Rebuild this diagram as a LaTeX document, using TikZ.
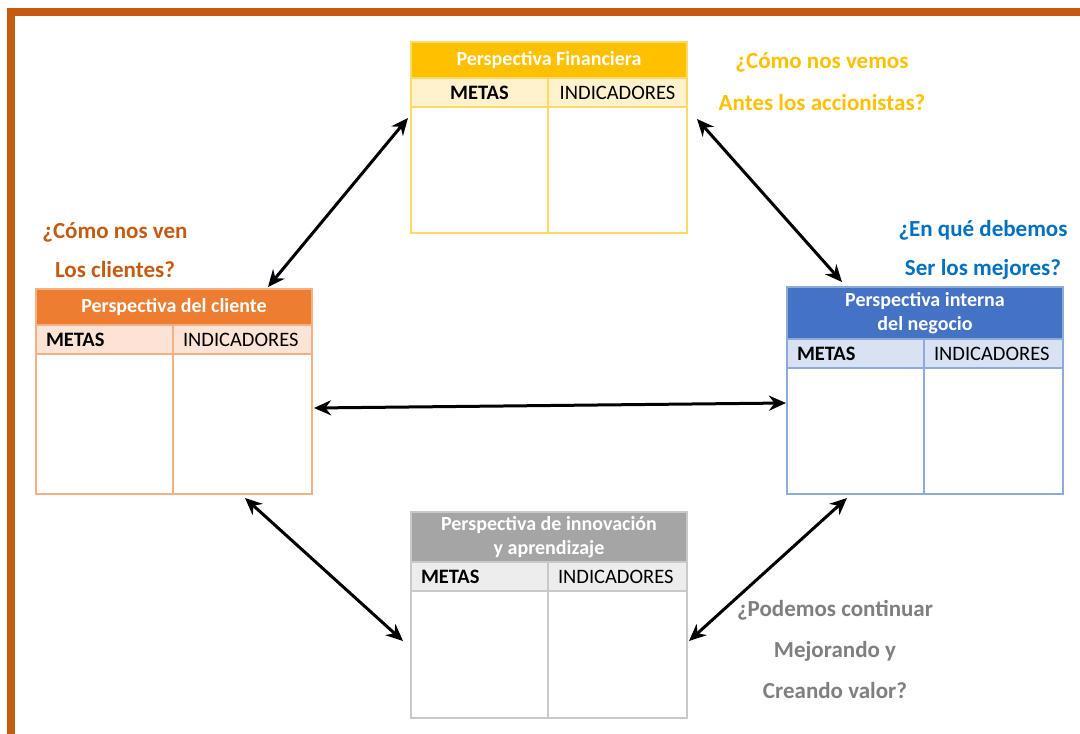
\documentclass[tikz,border=0pt]{standalone}
\usepackage{fontspec}
\setmainfont{Carlito}
\usepackage{tikz}
\usetikzlibrary{arrows.meta,positioning}
\usepackage{xcolor}
\definecolor{bscframe}{RGB}{197,90,17}
\definecolor{bscgold}{RGB}{255,192,0}
\definecolor{bscgoldsub}{RGB}{255,242,204}
\definecolor{bscgoldline}{RGB}{255,217,102}
\definecolor{bscorange}{RGB}{237,125,49}
\definecolor{bscorangesub}{RGB}{251,228,213}
\definecolor{bscorangeline}{RGB}{244,176,131}
\definecolor{bscblue}{RGB}{68,114,196}
\definecolor{bscbluesub}{RGB}{217,226,243}
\definecolor{bscblueline}{RGB}{142,170,219}
\definecolor{bscgray}{RGB}{165,165,165}
\definecolor{bscgraysub}{RGB}{237,237,237}
\definecolor{bscgrayline}{RGB}{201,201,201}
\definecolor{qorange}{RGB}{197,90,17}
\definecolor{qblue}{RGB}{0,112,192}
\definecolor{qgray}{RGB}{127,127,127}
\tikzstyle{arrow} = [line width=3pt,{Stealth[length=17pt,width=15pt]}-{Stealth[length=17pt,width=15pt]}]
\tikzstyle{tbl} = [draw, line width=1.3pt, fill=white, minimum width=276pt, anchor=north west, inner sep=0pt, outer sep=0pt]
\tikzstyle{hdr} = [draw, line width=1.3pt, minimum width=276pt, anchor=north west, inner sep=0pt, outer sep=0pt, text=white, align=center, font=\fontsize{20}{24}\selectfont\bfseries]
\tikzstyle{cell} = [draw, line width=1.3pt, minimum height=29pt, text width=117pt, inner xsep=10pt, inner ysep=0pt, outer sep=0pt, anchor=north west, font=\fontsize{20.5}{24}\selectfont]
\tikzstyle{quest} = [anchor=base, font=\fontsize{23}{28}\selectfont\bfseries]

\begin{document}
\begin{tikzpicture}[x=1pt, y=-1pt]
\useasboundingbox (0,0) rectangle (1080,734);
% frame
\draw[bscframe, line width=8pt] (1080,12) -- (11,12) -- (11,734);

% Perspectiva financiera
\node[tbl, draw=bscgoldline, minimum height=191pt] (fin) at (411,42) {};
\node[hdr, draw=bscgoldline, fill=bscgold, minimum height=36pt] (finhd) at (fin.north west) {Perspectiva Financiera};
\node[cell, draw=bscgoldline, fill=bscgoldsub, align=center] (finmet) at (finhd.south west) {\bfseries METAS};
\node[cell, draw=bscgoldline, fill=bscgoldsub, align=center, text width=119pt] (finind) at (finmet.north east) {INDICADORES};
\draw[bscgoldline, line width=1.3pt] (finmet.south east) -- (finmet.east |- fin.south);

% Perspectiva del cliente
\node[tbl, draw=bscorangeline, minimum height=205pt] (cli) at (36,289) {};
\node[hdr, draw=bscorangeline, fill=bscorange, minimum height=36pt] (clihd) at (cli.north west) {Perspectiva del cliente};
\node[cell, draw=bscorangeline, fill=bscorangesub, align=left] (climet) at (clihd.south west) {\bfseries METAS};
\node[cell, draw=bscorangeline, fill=bscorangesub, align=left, text width=119pt] (cliind) at (climet.north east) {INDICADORES};
\draw[bscorangeline, line width=1.3pt] (climet.south east) -- (climet.east |- cli.south);

% Perspectiva interna
\node[tbl, draw=bscblueline, minimum height=207pt] (int) at (787,287) {};
\node[hdr, draw=bscblueline, fill=bscblue, minimum height=52pt] (inthd) at (int.north west) {Perspectiva interna\\del negocio};
\node[cell, draw=bscblueline, fill=bscbluesub, align=left] (intmet) at (inthd.south west) {\bfseries METAS};
\node[cell, draw=bscblueline, fill=bscbluesub, align=left, text width=119pt] (intind) at (intmet.north east) {INDICADORES};
\draw[bscblueline, line width=1.3pt] (intmet.south east) -- (intmet.east |- int.south);

% Perspectiva de innovacion
\node[tbl, draw=bscgrayline, minimum height=206pt] (inn) at (411,512) {};
\node[hdr, draw=bscgrayline, fill=bscgray, minimum height=50pt] (innhd) at (inn.north west) {Perspectiva de innovación\\y aprendizaje};
\node[cell, draw=bscgrayline, fill=bscgraysub, align=left] (innmet) at (innhd.south west) {\bfseries METAS};
\node[cell, draw=bscgrayline, fill=bscgraysub, align=left, text width=119pt] (innind) at (innmet.north east) {INDICADORES};
\draw[bscgrayline, line width=1.3pt] (innmet.south east) -- (innmet.east |- inn.south);

% Preguntas
\node[quest, bscgold] (finq) at (822,68) {¿Cómo nos vemos};
\node[quest, bscgold] (finq2) at ([yshift=-42pt]finq.base) {Antes los accionistas?};
\node[quest, qorange] (cliq) at (115,238) {¿Cómo nos ven};
\node[quest, qorange] (cliq2) at ([yshift=-39pt]cliq.base) {Los clientes?};
\node[quest, qblue] (intq) at (983,236) {¿En qué debemos};
\node[quest, qblue] (intq2) at ([yshift=-39pt]intq.base) {Ser los mejores?};
\node[quest, qgray] (innq) at (835,616) {¿Podemos continuar};
\node[quest, qgray] (innq2) at ([yshift=-41pt]innq.base) {Mejorando y};
\node[quest, qgray] (innq3) at ([yshift=-41pt]innq2.base) {Creando valor?};

% Relaciones
\draw[arrow] ([shift={(-3,76)}]fin.north west) -- ([shift={(232,-2)}]cli.north west);
\draw[arrow] ([shift={(10,77)}]fin.north east) -- ([shift={(55,-5)}]int.north west);
\draw[arrow] ([shift={(2,119)}]cli.north east) -- ([shift={(-1,116)}]int.north west);
\draw[arrow] ([shift={(209,4)}]cli.south west) -- ([shift={(-8,129)}]inn.north west);
\draw[arrow] ([shift={(60,4)}]int.south west) -- ([shift={(2,129)}]inn.north east);
\end{tikzpicture}
\end{document}
